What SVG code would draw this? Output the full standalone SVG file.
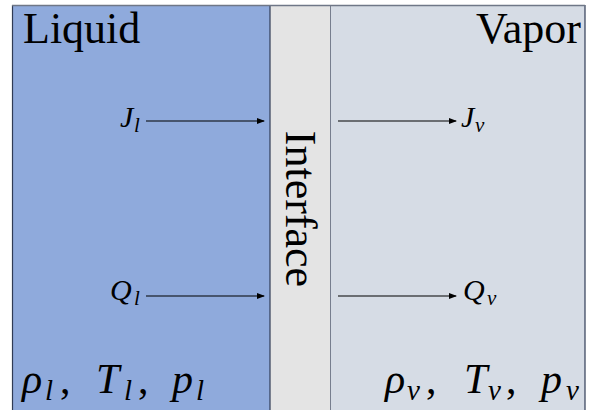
<svg xmlns="http://www.w3.org/2000/svg" width="592" height="410" viewBox="0 0 592 410">
<defs>
<marker id="ah" markerWidth="8" markerHeight="6" refX="7" refY="3" orient="auto" markerUnits="userSpaceOnUse">
<path d="M0,0 L8,3 L0,6 z" fill="#000"/>
</marker>
<style>
.lbl{font-family:"Liberation Serif","Times New Roman",serif;fill:#000}
.m{font-family:"Liberation Serif","Times New Roman",serif;font-style:italic;fill:#000}
.u{font-family:"Liberation Serif","Times New Roman",serif;fill:#000}
.big{font-size:42px}
.sb{font-size:29px}
.ms{font-size:30px}
.ss{font-size:21px}
.arr{stroke:#000;stroke-width:1.2;fill:none;marker-end:url(#ah)}
.edge{stroke:#2f3b55;stroke-width:1.2}
</style>
</defs>
<rect x="0" y="0" width="592" height="410" fill="#fff"/>
<g id="liquid">
<rect x="12" y="5" width="258" height="410" fill="#8faadc"/>
<line class="edge" x1="12.5" y1="5" x2="12.5" y2="410"/>
<text class="lbl" x="23" y="43" font-size="44">Liquid</text>
<text class="m ms" x="120" y="127">J</text><text class="m ss" x="134" y="132">l</text>
<text class="m ms" x="110" y="300">Q</text><text class="m ss" x="134" y="305">l</text>
<text class="m big" x="22" y="393">ρ</text><text class="m sb" x="45" y="400">l</text><text class="u big" x="60" y="393">,</text>
<text class="m big" x="96" y="393">T</text><text class="m sb" x="124" y="400">l</text><text class="u big" x="138" y="393">,</text>
<text class="m big" x="172" y="393">p</text><text class="m sb" x="196" y="400">l</text>
</g>
<g id="interface">
<rect x="270" y="5" width="61" height="410" fill="#e4e4e4"/>
<line class="edge" x1="270" y1="5" x2="270" y2="410"/>
<line class="edge" x1="331" y1="5" x2="331" y2="410"/>
<text class="lbl" font-size="44" text-anchor="middle" transform="translate(286,209) rotate(90)">Interface</text>
</g>
<g id="vapor">
<rect x="331" y="5" width="254" height="410" fill="#d6dce5"/>
<line class="edge" x1="585" y1="5" x2="585" y2="410"/>
<text class="lbl" x="581" y="43" font-size="44" text-anchor="end">Vapor</text>
<text class="m ms" x="461" y="127">J</text><text class="m ss" x="475" y="132">v</text>
<text class="m ms" x="463" y="300">Q</text><text class="m ss" x="487" y="305">v</text>
<text class="m big" x="385" y="393">ρ</text><text class="m sb" x="407" y="400">v</text><text class="u big" x="426" y="393">,</text>
<text class="m big" x="464" y="393">T</text><text class="m sb" x="488" y="400">v</text><text class="u big" x="506" y="393">,</text>
<text class="m big" x="541" y="393">p</text><text class="m sb" x="566" y="400">v</text>
</g>
<line x1="12" y1="5.5" x2="585" y2="5.5" stroke="#6f7787" stroke-width="1.5"/>
<g id="connectors">
<line class="arr" x1="146" y1="121" x2="264" y2="121"/>
<line class="arr" x1="338" y1="121" x2="456" y2="121"/>
<line class="arr" x1="146" y1="296" x2="264" y2="296"/>
<line class="arr" x1="338" y1="296" x2="456" y2="296"/>
</g>
</svg>
